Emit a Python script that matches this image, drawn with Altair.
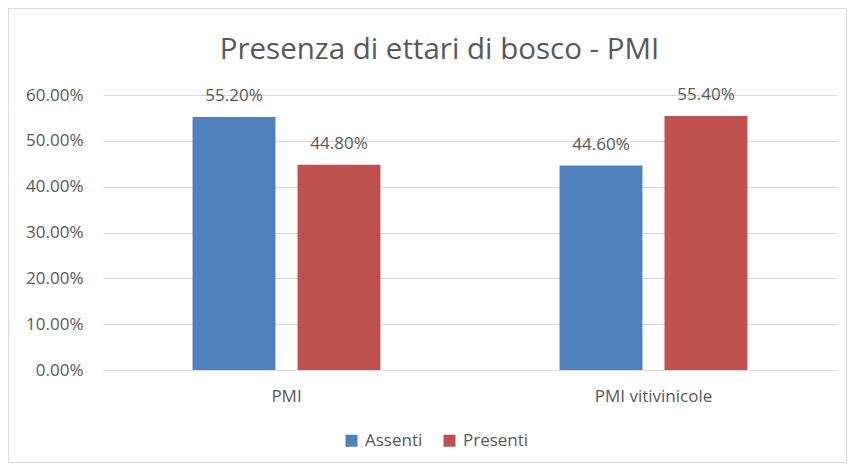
import altair as alt
import pandas as pd

categories = ["PMI", "PMI", "PMI vitivinicole", "PMI vitivinicole"]
series = ["Assenti", "Presenti", "Assenti", "Presenti"]
values = [0.552, 0.448, 0.446, 0.554]
title_text = "Presenza di ettari di bosco - PMI"
y_ticks = [0, 0.1, 0.2, 0.3, 0.4, 0.5, 0.6]
series_order = ["Assenti", "Presenti"]
series_colors = ["#4F81BD", "#C0504D"]

FONT = "Open Sans"
GREY = "#595959"

df = pd.DataFrame({"cat": categories, "serie": series, "val": values})

W, H = 734, 275
PL, PT, PR, PB = 95, 87, 10, 93

xenc = alt.X("cat:N", title=None, sort=None,
             scale=alt.Scale(paddingInner=0.488, paddingOuter=0.244),
             axis=alt.Axis(labelAngle=0, ticks=False, labelPadding=18,
                           domainColor="#D9D9D9", labelFontSize=17,
                           labelColor=GREY, labelFont=FONT, grid=False))
xoff = alt.XOffset("serie:N", sort=series_order,
                   scale=alt.Scale(paddingInner=0.21, paddingOuter=0))
yenc = alt.Y("val:Q", title=None,
             scale=alt.Scale(domain=[0, 0.6], nice=False),
             axis=alt.Axis(values=y_ticks, format=".2%", domain=False, ticks=False,
                           labelPadding=20, labelFontSize=17, labelColor=GREY,
                           labelFont=FONT, gridColor="#D9D9D9"))

bars = alt.Chart(df).mark_bar().encode(
    x=xenc, xOffset=xoff, y=yenc,
    color=alt.Color("serie:N", sort=series_order,
                    scale=alt.Scale(domain=series_order, range=series_colors),
                    legend=alt.Legend(title=None, orient="none", direction="horizontal",
                                      legendX=240, legendY=337, symbolType="square",
                                      symbolSize=144, symbolStrokeWidth=0,
                                      labelFontSize=17, labelColor=GREY, labelFont=FONT,
                                      columnPadding=18, labelOffset=5)),
)

labels = alt.Chart(df).mark_text(baseline="middle", dy=-21, fontSize=17,
                                 color=GREY, font=FONT).encode(
    x=alt.X("cat:N", sort=None), xOffset=alt.XOffset("serie:N", sort=series_order),
    y="val:Q", text=alt.Text("val:Q", format=".2%"))

title = alt.Chart(pd.DataFrame({"t": [title_text]})).mark_text(
    baseline="alphabetic", align="center", fontSize=29.5, color=GREY, font=FONT).encode(
    text="t:N", x=alt.value(336.5), y=alt.value(-36))

border = alt.Chart(pd.DataFrame({"b": [0]})).mark_rect(
    fill=None, stroke="#D9D9D9", strokeWidth=1).encode(
    x=alt.value(-PL + 0.5), x2=alt.value(W + PR - 0.5),
    y=alt.value(-PT + 0.5), y2=alt.value(H + PB - 0.5))

chart = alt.layer(border, bars, labels, title).properties(
    width=W, height=H,
    padding={"left": PL, "top": PT, "right": PR, "bottom": PB},
    autosize=alt.AutoSizeParams(type="none"),
).configure_view(stroke=None)

chart.save("out.html", embed_options={"renderer": "svg", "actions": False})
